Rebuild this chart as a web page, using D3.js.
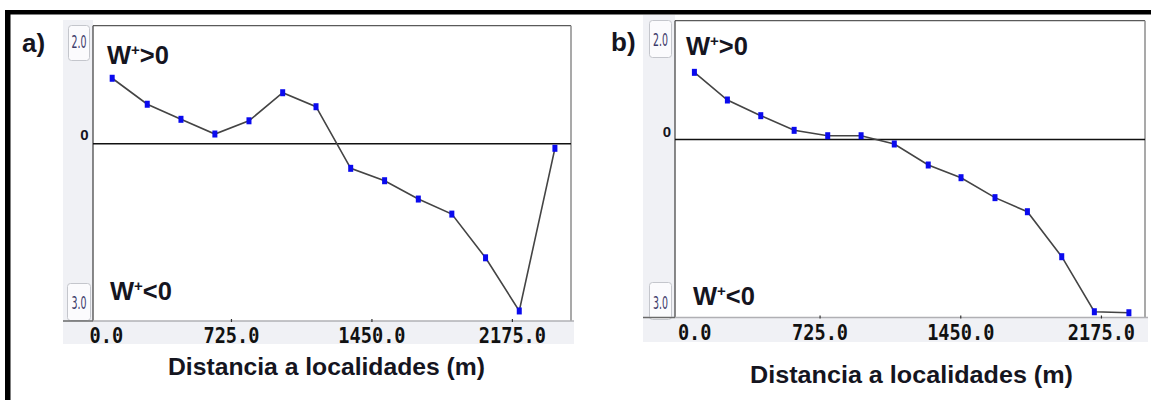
<!DOCTYPE html>
<html><head><meta charset="utf-8">
<script src="https://cdn.jsdelivr.net/npm/d3@7"></script>
<style>body{margin:0;background:#fff;} svg{display:block;}</style>
</head><body>
<svg id="chart" width="1151" height="400"></svg>
<script>
// ---------- data ----------
const xTickValues = [0, 725, 1450, 2175];
const xTickLabels = ["0.0", "725.0", "1450.0", "2175.0"];
const yEndLabels = ["2.0", "3.0"];
const yZeroLabel = "0";
const yDomain = [-3, 2];
const distanceA = [112, 293, 467, 642, 818, 992, 1164, 1343, 1518, 1692, 1865, 2039, 2213, 2397];
const weightA   = [1.11, 0.67, 0.415, 0.166, 0.39, 0.865, 0.628, -0.415, -0.625, -0.935, -1.19, -1.93, -2.83, -0.076];
const distanceB = [80, 250, 422, 594, 767, 939, 1110, 1285, 1454, 1629, 1796, 1973, 2141, 2319];
const weightB   = [1.13, 0.664, 0.40, 0.153, 0.062, 0.062, -0.077, -0.431, -0.645, -0.981, -1.218, -1.976, -2.903, -2.92];
const panelTags = ["a)", "b)"];
const upperLabel = [">0"];
const lowerLabel = ["<0"];
const xTitle = "Distancia a localidades (m)";

// ---------- layout ----------
const layouts = [
  {dist: distanceA, w: weightA, left: 93, right: 571, top: 25.7, bottom: 321, xDomain: [13, 2480],
   stripX: 63, stripTop: 20, bandBottom: 344, tagX: 22, tagY: 52, upX: 107, upY: 64, loX: 110, loY: 300,
   titleX: 168, titleY: 375, titleW: 317, tickY: 343, topBox: [68, 25, 21, 35], botBox: [67, 283, 23, 37],
   topTextY: 48, botTextY: 309, zeroX: 88.5, zeroY: 140},
  {dist: distanceB, w: weightB, left: 675, right: 1145, top: 20.7, bottom: 317.5, xDomain: [-20, 2402],
   stripX: 643, stripTop: 15, bandBottom: 342, tagX: 611, tagY: 51, upX: 686, upY: 55, loX: 693, loY: 305,
   titleX: 750, titleY: 383, titleW: 323, tickY: 340, topBox: [649, 20, 22, 37], botBox: [649, 282, 22, 37],
   topTextY: 46, botTextY: 309, zeroX: 671, zeroY: 137}
];

const svg = d3.select("#chart");
const textColor = "#15151f";

// outer black frame (top and left)
svg.append("rect").attr("x", 5).attr("y", 10).attr("width", 1146).attr("height", 4.5).attr("fill", "#000");
svg.append("rect").attr("x", 5).attr("y", 10).attr("width", 5.5).attr("height", 390).attr("fill", "#000");

layouts.forEach((L, i) => {
  const g = svg.append("g");
  const x = d3.scaleLinear().domain(L.xDomain).range([L.left, L.right]);
  const y = d3.scaleLinear().domain(yDomain).range([L.bottom, L.top]);

  // gray strips (left + bottom)
  g.append("rect").attr("x", L.stripX).attr("y", L.stripTop)
    .attr("width", L.left - L.stripX).attr("height", L.bandBottom - L.stripTop).attr("fill", "#f0f1f5");
  g.append("rect").attr("x", L.stripX).attr("y", L.bottom)
    .attr("width", L.right + 3 - L.stripX).attr("height", L.bandBottom - L.bottom).attr("fill", "#f0f1f5");
  // plot area
  g.append("rect").attr("x", L.left).attr("y", L.top)
    .attr("width", L.right - L.left).attr("height", L.bottom - L.top).attr("fill", "#fff");

  // y end boxes
  [L.topBox, L.botBox].forEach((b, k) => {
    g.append("rect").attr("x", b[0] + 0.5).attr("y", b[1] + 0.5).attr("width", b[2]).attr("height", b[3])
      .attr("rx", 3).attr("fill", "#fbfbfd").attr("stroke", "#c4c6cc").attr("stroke-width", 1);
    g.append("text").attr("x", b[0] + b[2] / 2 + 0.5).attr("y", k === 0 ? L.topTextY : L.botTextY)
      .attr("text-anchor", "middle").attr("font-family", "DejaVu Sans").attr("font-size", 17)
      .attr("textLength", 15).attr("lengthAdjust", "spacingAndGlyphs")
      .attr("fill", "#3b3a6a").text(yEndLabels[k]);
  });

  // frame lines
  g.append("line").attr("x1", L.left).attr("x2", L.right).attr("y1", L.top).attr("y2", L.top)
    .attr("stroke", "#5a5a5a").attr("stroke-width", 1.3);
  g.append("line").attr("x1", L.right).attr("x2", L.right).attr("y1", L.top).attr("y2", L.bottom)
    .attr("stroke", "#8c8c8c").attr("stroke-width", 1.5);
  g.append("line").attr("x1", L.left).attr("x2", L.left).attr("y1", L.top).attr("y2", L.bottom)
    .attr("stroke", "#4a4a4a").attr("stroke-width", 1.3);
  g.append("line").attr("x1", L.stripX).attr("x2", L.left).attr("y1", L.bottom).attr("y2", L.bottom)
    .attr("stroke", "#6a6a6a").attr("stroke-width", 1.5);
  g.append("line").attr("x1", L.left).attr("x2", L.right + 3).attr("y1", L.bottom).attr("y2", L.bottom)
    .attr("stroke", "#b0b0b4").attr("stroke-width", 1.5);

  // zero line
  g.append("line").attr("x1", L.left).attr("x2", L.right).attr("y1", y(0)).attr("y2", y(0))
    .attr("stroke", "#111").attr("stroke-width", 1.5);
  g.append("text").attr("x", L.zeroX).attr("y", L.zeroY).attr("text-anchor", "end")
    .attr("font-family", "Liberation Sans").attr("font-weight", "bold").attr("font-size", 15)
    .attr("fill", textColor).text(yZeroLabel);

  // x axis
  const axis = d3.axisBottom(x).tickValues(xTickValues).tickSize(3).tickSizeOuter(0)
    .tickFormat((d, j) => xTickLabels[j]);
  const ax = g.append("g").attr("transform", `translate(0,${L.bottom - 2})`).call(axis);
  ax.select(".domain").remove();
  ax.selectAll(".tick line").attr("stroke", "#333").attr("stroke-width", 1.2);
  ax.selectAll(".tick").filter(d => d === 0).select("line").remove();
  ax.selectAll(".tick text")
    .attr("y", L.tickY - L.bottom + 2).attr("dy", 0)
    .attr("font-family", "DejaVu Sans Mono").attr("font-weight", "bold").attr("font-size", 21)
    .attr("fill", "#111")
    .attr("textLength", (d, j) => xTickLabels[j].length * 11.2).attr("lengthAdjust", "spacingAndGlyphs")
    .attr("text-anchor", d => d === 0 ? "start" : "middle")
    .attr("x", d => d === 0 ? -1.5 : 0);

  // series line + markers
  const pts = L.dist.map((d, j) => [d, L.w[j]]);
  g.append("path").datum(pts)
    .attr("d", d3.line().x(d => x(d[0])).y(d => y(d[1])))
    .attr("fill", "none").attr("stroke", "#444").attr("stroke-width", 1.6);
  g.selectAll(".mk").data(pts).enter().append("rect")
    .attr("x", d => x(d[0]) - 2.5).attr("y", d => y(d[1]) - 3.5)
    .attr("width", 5).attr("height", 7).attr("fill", "#0a0aee");

  // panel tag
  g.append("text").attr("x", L.tagX).attr("y", L.tagY)
    .attr("font-family", "Liberation Sans").attr("font-weight", "bold").attr("font-size", 26)
    .attr("fill", textColor).text(panelTags[i]);

  // W+ labels
  [[L.upX, L.upY, upperLabel[0]], [L.loX, L.loY, lowerLabel[0]]].forEach(([tx, ty, rest]) => {
    const t = g.append("text").attr("x", tx).attr("y", ty)
      .attr("font-family", "Liberation Sans").attr("font-weight", "bold").attr("font-size", 25.5)
      .attr("fill", textColor);
    t.append("tspan").text("W");
    t.append("tspan").attr("font-size", 15).attr("dy", -9.5).text("+");
    t.append("tspan").attr("dy", 9.5).text(rest);
  });

  // x title
  g.append("text").attr("x", L.titleX).attr("y", L.titleY)
    .attr("font-family", "Liberation Sans").attr("font-weight", "bold").attr("font-size", 24)
    .attr("textLength", L.titleW).attr("lengthAdjust", "spacingAndGlyphs")
    .attr("fill", textColor).text(xTitle);
});
</script>
</body></html>
